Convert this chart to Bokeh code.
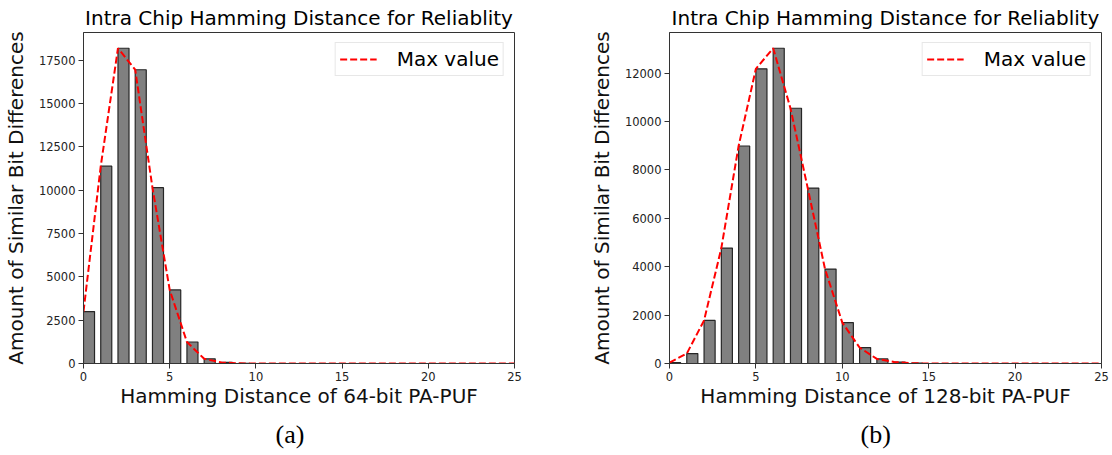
from bokeh.plotting import figure
from bokeh.layouts import row
from bokeh.models import Range1d, FixedTicker, Legend, LegendItem, Title
from bokeh.embed import file_html
from bokeh.resources import INLINE

# ---- data ----
hamming_distance = [0, 1, 2, 3, 4, 5, 6, 7, 8, 9, 10, 11, 12,
                    13, 14, 15, 16, 17, 18, 19, 20, 21, 22, 23, 24, 25]
counts_64 = [3000, 11390, 18200, 16960, 10150, 4250, 1240, 270, 60, 12,
             0, 0, 0, 0, 0, 0, 0, 0, 0, 0, 0, 0, 0, 0, 0, 0]
counts_128 = [40, 410, 1780, 4770, 8990, 12180, 13030, 10550, 7250, 3905,
              1690, 660, 190, 60, 12, 0, 0, 0, 0, 0, 0, 0, 0, 0, 0, 0]
x_ticks = [0, 5, 10, 15, 20, 25]
y_ticks_64 = [0, 2500, 5000, 7500, 10000, 12500, 15000, 17500]
y_ticks_128 = [0, 2000, 4000, 6000, 8000, 10000, 12000]
titles = ["Intra Chip Hamming Distance for Reliablity",
          "Intra Chip Hamming Distance for Reliablity"]
x_labels = ["Hamming Distance of 64-bit PA-PUF",
            "Hamming Distance of 128-bit PA-PUF"]
y_label = "Amount of Similar Bit Differences"
captions = ["(a)", "(b)"]
legend_label = "Max value"

BAR_W = 0.64
FONT = "DejaVu Sans"


def make_panel(counts, yticks, title, xlabel, caption, border_left, border_right, cap_offset):
    ymax = max(counts) * 1.05
    p = figure(width=556, height=455, output_backend="svg", toolbar_location=None,
               x_range=Range1d(0, 25), y_range=Range1d(0, ymax),
               min_border_left=border_left, min_border_right=border_right,
               min_border_top=31, min_border_bottom=92)
    p.title.text = title
    p.title.text_font = FONT
    p.title.text_font_size = "20px"
    p.title.text_font_style = "normal"
    p.title.text_color = "#000000"
    p.title.align = "center"
    p.title.standoff = 6

    centers = [h + BAR_W / 2 for h in hamming_distance]
    p.vbar(x=centers, top=counts, width=BAR_W, bottom=0,
           fill_color="#808080", line_color="#262626", line_width=1.2)
    ln = p.line(hamming_distance, counts, line_color="#ff0000",
                line_dash="7 3", line_width=2)

    legend = Legend(items=[LegendItem(label=legend_label, renderers=[ln])],
                    location="top_right", margin=10, padding=4,
                    glyph_width=37, glyph_height=18, label_height=18,
                    label_standoff=20, spacing=0,
                    label_text_font=FONT, label_text_font_size="20px",
                    label_text_color="#000000",
                    border_line_color="#d0d0d0", border_line_width=1,
                    background_fill_color="white", background_fill_alpha=0.85)
    p.add_layout(legend)

    p.xgrid.visible = False
    p.ygrid.visible = False
    p.outline_line_color = "#333333"
    p.outline_line_width = 1
    p.outline_line_alpha = 1

    p.xaxis.ticker = FixedTicker(ticks=x_ticks)
    p.yaxis.ticker = FixedTicker(ticks=yticks)
    for ax in (p.xaxis[0], p.yaxis[0]):
        ax.axis_line_color = "#333333"
        ax.major_tick_line_color = "#333333"
        ax.major_tick_out = 5
        ax.major_tick_in = 0
        ax.minor_tick_line_color = None
        ax.major_label_text_font = FONT
        ax.major_label_text_font_size = "11.5px"
        ax.major_label_text_color = "#222222"
        ax.axis_label_text_font = FONT
        ax.axis_label_text_font_size = "20px"
        ax.axis_label_text_font_style = "normal"
        ax.axis_label_text_color = "#111111"
        ax.major_label_standoff = 3
    p.xaxis.axis_label = xlabel
    p.yaxis.axis_label = y_label
    p.xaxis.axis_label_standoff = 0
    p.yaxis.axis_label_standoff = 8

    cap = Title(text=caption, align="left", offset=cap_offset,
                text_font="Liberation Serif", text_font_size="26px",
                text_font_style="normal", text_color="#000000", standoff=14)
    p.add_layout(cap, "below")
    return p


p1 = make_panel(counts_64, y_ticks_64, titles[0], x_labels[0], captions[0], 82, 42, 192)
p2 = make_panel(counts_128, y_ticks_128, titles[1], x_labels[1], captions[1], 113, 11, 191)

layout = row(p1, p2)
open("out.html", "w").write(file_html(layout, INLINE))
